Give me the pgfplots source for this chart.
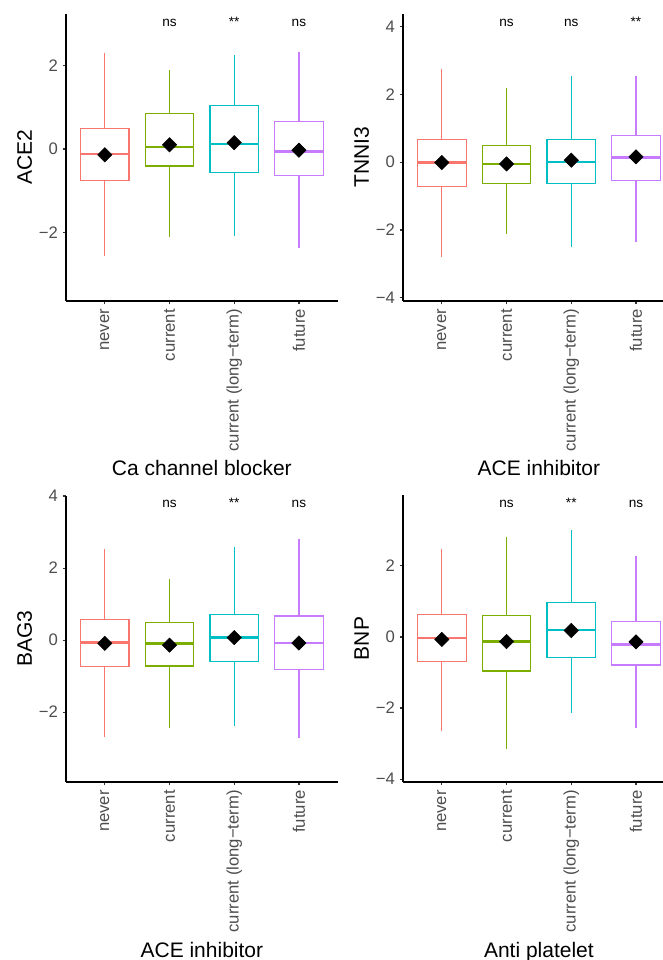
\documentclass[border=0pt]{standalone}
\usepackage{fontspec}
\setmainfont{Liberation Sans}
\usepackage{pgfplots}
\pgfplotsset{compat=1.18}
\usepgfplotslibrary{statistics}
\definecolor{cA}{HTML}{F8766D}
\definecolor{cB}{HTML}{7CAE00}
\definecolor{cC}{HTML}{00BFC4}
\definecolor{cD}{HTML}{C77CFF}
\definecolor{tickgray}{HTML}{4D4D4D}
\newcommand{\bx}[7]{\addplot[draw=#1, line width=0.9pt, fill=white,
  boxplot prepared={draw position=#2, lower whisker=#3, lower quartile=#4,
  median=#5, upper quartile=#6, upper whisker=#7, box extend=0.75, whisker extend=0}] coordinates {};}
\newcommand{\means}[4]{\addplot[only marks, mark=square*, mark size=3.8pt,
  mark options={rotate=45, fill=black, draw=black}] coordinates {(0,#1) (1,#2) (2,#3) (3,#4)};}
\tikzset{sig/.style={anchor=base, font=\fontsize{10.2}{12}\selectfont}}
\pgfplotsset{
  panel/.style={
    scale only axis, anchor=south west,
    xmin=-0.6, xmax=3.6,
    axis lines=left, axis line style={-, line width=0.95pt, black},
    tick align=outside, tick style={line width=0.9pt, color=black!80},
    major tick length=2.6pt,
    xtick={0,1,2,3},
    xticklabels={never,current,current (long−term),future},
    xticklabel style={rotate=90, anchor=east, font=\fontsize{12.5}{14}\selectfont, text=tickgray},
    yticklabel style={font=\fontsize{12.5}{14}\selectfont, text=tickgray},
    every axis y label/.style={at={([xshift=-31.1pt]axis description cs:0,0.5)}, anchor=center, rotate=90, font=\fontsize{15.75}{18}\selectfont},
    every axis x label/.style={at={([yshift=-131.25pt]axis description cs:0.5,0)}, anchor=base, font=\fontsize{15.75}{18}\selectfont},
    boxplot/draw direction=y,
    boxplot/every median/.style={line width=2pt},
    clip=false,
  },
}
\begin{document}
\begin{tikzpicture}
\useasboundingbox (0,0) rectangle (497.25pt,720pt);
\clip (0,0) rectangle (497.25pt,720pt);
% Panel 1: ACE2
\begin{axis}[panel, at={(49.5pt,494.25pt)}, width=203.8pt, height=215.25pt,
  ymin=-3.65, ymax=3.24, ytick={-2,0,2}, yticklabels={−2,0,2},
  ylabel={ACE2}, xlabel={Ca channel blocker}]
\bx{cA}{0}{-2.58}{-0.75}{-0.12}{0.49}{2.31}
\bx{cB}{1}{-2.11}{-0.41}{0.05}{0.86}{1.90}
\bx{cC}{2}{-2.08}{-0.57}{0.12}{1.05}{2.26}
\bx{cD}{3}{-2.37}{-0.64}{-0.06}{0.66}{2.33}
\means{-0.14}{0.10}{0.15}{-0.03}
\node[sig] at (axis cs:1,2.94) {ns};
\node[sig] at (axis cs:2,2.94) {**};
\node[sig] at (axis cs:3,2.94) {ns};
\end{axis}
% Panel 2: TNNI3
\begin{axis}[panel, at={(302.25pt,494.25pt)}, width=203.85pt, height=215.25pt,
  ymin=-4.10, ymax=4.38, ytick={-4,-2,0,2,4}, yticklabels={−4,−2,0,2,4},
  ylabel={TNNI3}, xlabel={ACE inhibitor}]
\bx{cA}{0}{-2.80}{-0.72}{-0.01}{0.67}{2.75}
\bx{cB}{1}{-2.13}{-0.64}{-0.05}{0.49}{2.19}
\bx{cC}{2}{-2.50}{-0.62}{0.01}{0.68}{2.55}
\bx{cD}{3}{-2.35}{-0.53}{0.14}{0.78}{2.55}
\means{-0.01}{-0.05}{0.06}{0.16}
\node[sig] at (axis cs:1,4.01) {ns};
\node[sig] at (axis cs:2,4.01) {ns};
\node[sig] at (axis cs:3,4.01) {**};
\end{axis}
% Panel 3: BAG3
\begin{axis}[panel, at={(49.5pt,133.5pt)}, width=203.8pt, height=214.7pt,
  ymin=-3.94, ymax=4.01, ytick={-2,0,2,4}, yticklabels={−2,0,2,4},
  ylabel={BAG3}, xlabel={ACE inhibitor}]
\bx{cA}{0}{-2.69}{-0.74}{-0.06}{0.57}{2.52}
\bx{cB}{1}{-2.45}{-0.72}{-0.09}{0.48}{1.69}
\bx{cC}{2}{-2.39}{-0.60}{0.08}{0.72}{2.58}
\bx{cD}{3}{-2.73}{-0.81}{-0.08}{0.67}{2.80}
\means{-0.09}{-0.14}{0.07}{-0.08}
\node[sig] at (axis cs:1,3.68) {ns};
\node[sig] at (axis cs:2,3.68) {**};
\node[sig] at (axis cs:3,3.68) {ns};
\end{axis}
% Panel 4: BNP
\begin{axis}[panel, at={(302.25pt,133.5pt)}, width=203.85pt, height=215.25pt,
  ymin=-4.08, ymax=3.99, ytick={-4,-2,0,2}, yticklabels={−4,−2,0,2},
  ylabel={BNP}, xlabel={Anti platelet}]
\bx{cA}{0}{-2.66}{-0.70}{-0.03}{0.62}{2.47}
\bx{cB}{1}{-3.16}{-0.96}{-0.13}{0.61}{2.80}
\bx{cC}{2}{-2.13}{-0.58}{0.19}{0.97}{3.01}
\bx{cD}{3}{-2.55}{-0.79}{-0.22}{0.43}{2.28}
\means{-0.07}{-0.13}{0.18}{-0.14}
\node[sig] at (axis cs:1,3.63) {ns};
\node[sig] at (axis cs:2,3.63) {**};
\node[sig] at (axis cs:3,3.63) {ns};
\end{axis}
\end{tikzpicture}
\end{document}
